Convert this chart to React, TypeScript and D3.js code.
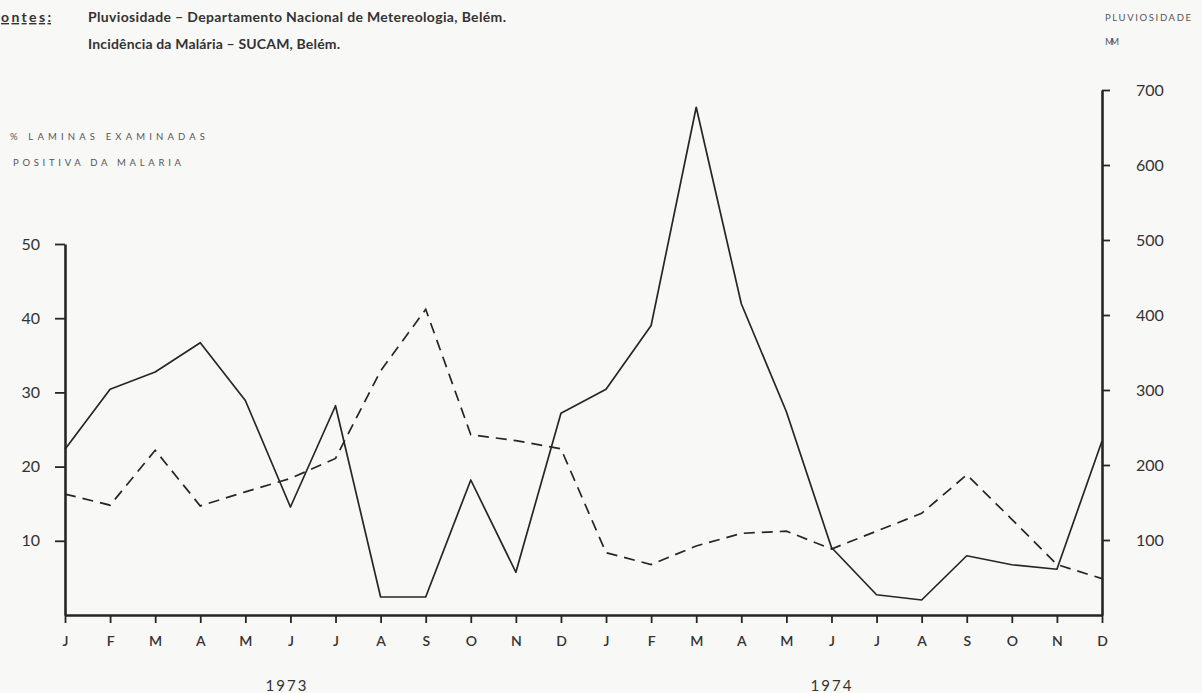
import React, { useEffect, useRef } from 'react';
import * as d3 from 'd3';

const months = ['J', 'F', 'M', 'A', 'M', 'J', 'J', 'A', 'S', 'O', 'N', 'D',
  'J', 'F', 'M', 'A', 'M', 'J', 'J', 'A', 'S', 'O', 'N', 'D'];
const years = ['1973', '1974'];

// pluviosidade (mm) - solid line, right axis
const rainfall = [221, 301, 324, 363, 286, 144, 279, 24, 24, 180, 57, 269,
  301, 386, 677, 415, 271, 90, 27, 20, 79, 67, 61, 232];

// % laminas positivas - dashed line, left axis
const malaria = [16.3, 14.8, 22.2, 14.7, 16.6, 18.4, 21.1, 32.9, 41.2, 24.3, 23.5, 22.4,
  8.4, 6.8, 9.3, 11.0, 11.3, 8.9, 11.3, 13.7, 18.9, 12.9, 6.8, 4.9];

const leftTicks = [10, 20, 30, 40, 50];
const rightTicks = [100, 200, 300, 400, 500, 600, 700];

const W = 1202;
const H = 693;

export default function App() {
  const svgRef = useRef<SVGSVGElement | null>(null);

  useEffect(() => {
    const svg = d3.select(svgRef.current);
    svg.selectAll('*').remove();

    const ink = '#262626';
    const font = 'Lato, "DejaVu Sans", sans-serif';

    svg.append('rect').attr('width', W).attr('height', H).attr('fill', '#f8f8f6');

    const x = d3.scaleLinear().domain([0, 23]).range([65, 1102]);
    const yR = d3.scaleLinear().domain([0, 700]).range([615, 90]);
    const yL = d3.scaleLinear().domain([0, 50]).range([615, 244]);

    // axes
    const axLeft = svg.append('g').attr('transform', 'translate(65,0)')
      .call(d3.axisLeft(yL).tickValues(leftTicks).tickSize(10).tickSizeOuter(0).tickPadding(15));
    const axRight = svg.append('g').attr('transform', 'translate(1102,0)')
      .call(d3.axisRight(yR).tickValues(rightTicks).tickSize(8).tickSizeOuter(0).tickPadding(26));
    const axBottom = svg.append('g').attr('transform', 'translate(0,615)')
      .call(d3.axisBottom(x).tickValues(d3.range(24)).tickFormat((d: any) => months[d]).tickSize(8).tickSizeOuter(0).tickPadding(13));

    [axLeft, axRight, axBottom].forEach(g => {
      g.select('.domain').attr('stroke', ink).attr('stroke-width', 2.6);
      g.selectAll('.tick line').attr('stroke', ink).attr('stroke-width', 1.8);
      g.selectAll('.tick text').attr('fill', '#333').style('font-family', font);
    });
    axLeft.selectAll('.tick text').style('font-size', '16px');
    axRight.selectAll('.tick text').style('font-size', '16px').attr('text-anchor', 'start');
    axBottom.selectAll('.tick text').style('font-size', '14px').attr('font-weight', 600);

    // lines
    const lineR = d3.line<number>().x((d, i) => x(i)).y(d => yR(d));
    const lineL = d3.line<number>().x((d, i) => x(i)).y(d => yL(d));

    svg.append('path').datum(rainfall).attr('d', lineR)
      .attr('fill', 'none').attr('stroke', ink).attr('stroke-width', 1.7).attr('stroke-linejoin', 'round');
    svg.append('path').datum(malaria).attr('d', lineL)
      .attr('fill', 'none').attr('stroke', ink).attr('stroke-width', 1.7)
      .attr('stroke-dasharray', '11,7');

    // year labels
    years.forEach((yr, i) => {
      svg.append('text').attr('x', i === 0 ? 287 : 832).attr('y', 691)
        .attr('text-anchor', 'middle').attr('fill', '#333')
        .style('font-family', font).style('font-size', '15px').style('letter-spacing', '2px')
        .text(yr);
    });

    // header (the scan shows the first letter of "Fontes" trimmed off)
    svg.append('text').attr('x', 1).attr('y', 22)
      .attr('fill', '#333').style('font-family', font).style('font-size', '14px')
      .attr('font-weight', 700).attr('textLength', 50).attr('lengthAdjust', 'spacing')
      .attr('text-decoration', 'underline')
      .text('ontes:');
    svg.append('text').attr('x', 88).attr('y', 22).attr('fill', '#333')
      .style('font-family', font).style('font-size', '14px').attr('font-weight', 700)
      .attr('textLength', 418).attr('lengthAdjust', 'spacing')
      .text('Pluviosidade – Departamento Nacional de Metereologia, Belém.');
    svg.append('text').attr('x', 88).attr('y', 49).attr('fill', '#333')
      .style('font-family', font).style('font-size', '14px').attr('font-weight', 700)
      .attr('textLength', 252).attr('lengthAdjust', 'spacing')
      .text('Incidência da Malária – SUCAM, Belém.');

    // axis titles
    const small = (t: string, xx: number, yy: number, len: number) =>
      svg.append('text').attr('x', xx).attr('y', yy).attr('fill', '#555')
        .style('font-family', font).style('font-size', '9.5px')
        .attr('textLength', len).attr('lengthAdjust', 'spacing').text(t);
    small('% LAMINAS EXAMINADAS', 10, 140, 195);
    small('POSITIVA DA MALARIA', 13, 166, 168);
    small('PLUVIOSIDADE', 1105, 21, 86);
    small('MM', 1105, 45, 14);
  }, []);

  return (
    <svg ref={svgRef} width={W} height={H}
      style={{ position: 'absolute', left: 0, top: 0, display: 'block' }} />
  );
}
